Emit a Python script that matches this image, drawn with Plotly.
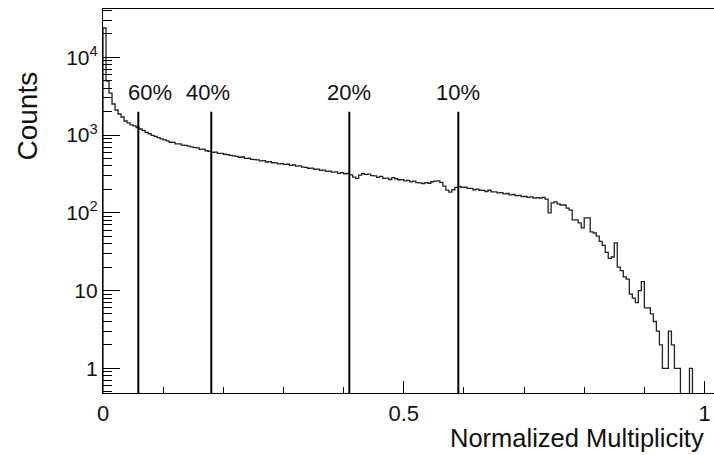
import numpy as np
import plotly.graph_objects as go

# ---------------- data ----------------
x_min, x_max, n_bins = 0.0, 1.0, 200
counts = [
    23800, 4960, 3470, 2510, 2100, 1865, 1707, 1517, 1430, 1348, 1310, 1250,
    1197, 1150, 1080, 1040, 990, 962, 925, 893,
    866, 842, 808, 806, 772, 768, 741, 738, 719, 706,
    688, 684, 655, 658, 628, 617, 601, 604, 582, 580,
    566, 561, 548, 539, 532, 518, 522, 500, 503, 488,
    482, 479, 466, 468, 450, 455, 440, 439, 425, 428,
    420, 421, 408, 412, 398, 402, 386, 385, 374, 375,
    363, 364, 352, 353, 342, 343, 333, 336, 322, 328,
    318, 320, 308, 288, 278, 306, 318, 312, 314, 300,
    298, 286, 294, 278, 280, 268, 283, 274, 266, 267,
    258, 262, 250, 255, 244, 243, 238, 244, 240, 251,
    255, 258, 246, 220, 196, 184, 198, 212, 218, 212,
    213, 206, 206, 198, 202, 195, 194, 188, 195, 186,
    186, 180, 182, 175, 177, 170, 172, 166, 168, 161,
    162, 158, 160, 154, 157, 155, 158, 150, 100, 134,
    138, 130, 126, 126, 115, 108, 81, 81, 74, 64,
    86, 86, 57, 55, 50, 43, 38, 31, 26, 27,
    41, 20, 18, 15, 14, 9, 8, 7, 10, 13,
    6, 6, 5, 4, 3, 2, 1, 1, 3, 2,
    1, 1, 0, 0, 0, 1, 0, 0, 0, 0,
]
cut_values = [0.0587, 0.180, 0.4095, 0.5907]
cut_labels = ["60%", "40%", "20%", "10%"]
y_tick_vals = [1, 10, 100, 1000, 10000]
y_tick_text = ["1", "10", "10<sup>2</sup>", "10<sup>3</sup>", "10<sup>4</sup>"]
x_tick_vals = [0, 0.5, 1]
x_tick_text = ["0", "0.5", "1"]

# ---------------- styling constants ----------------
FONT = "Liberation Sans, Arial, Helvetica, sans-serif"
INK = "#111111"
FLOOR = 1e-3          # where empty bins are drawn (below the visible range)
CUT_TOP = 2000        # height of cut lines
LABEL_Y = 3.55        # log10 position of cut labels
label_shift = [12, -3, 0, 0]

edges = np.linspace(x_min, x_max, n_bins + 1)
plot_counts = [c if c > 0 else FLOOR for c in counts]
hx = [edges[0]] + list(edges[:-1]) + [edges[-1]]
hy = [FLOOR] + plot_counts + [plot_counts[-1]]

fig = go.Figure()
fig.add_trace(go.Scatter(
    x=hx, y=hy, mode="lines", line=dict(shape="hv", color="#222222", width=1.3),
    showlegend=False, hoverinfo="skip"))

for c in cut_values:
    fig.add_trace(go.Scatter(
        x=[c, c], y=[FLOOR, CUT_TOP], mode="lines",
        line=dict(color="black", width=2), showlegend=False, hoverinfo="skip"))

for c, lab, sh in zip(cut_values, cut_labels, label_shift):
    fig.add_annotation(x=c, y=LABEL_Y, xref="x", yref="y", text=lab,
                       showarrow=False, xshift=sh, xanchor="center", yanchor="middle",
                       font=dict(family=FONT, size=22, color=INK))

# minor ticks on log axis
minor_y = [m * 10 ** d for d in range(-1, 5) for m in range(2, 10)]

W, H = 714, 455
L, R, T, B = 103, 0, 9, 62
px_per_unit = 601.5
x_right = (W - L - R) / px_per_unit
decade_px = 77.75
plot_h = H - T - B
y_lo = -(393 - 368.3) / decade_px
y_hi = y_lo + plot_h / decade_px

fig.update_layout(
    width=W, height=H,
    margin=dict(l=L, r=R, t=T, b=B),
    paper_bgcolor="white", plot_bgcolor="white",
    font=dict(family=FONT, color=INK),
    xaxis=dict(
        range=[0, x_right], showgrid=False, zeroline=False, automargin=False,
        showline=True, linecolor="black", linewidth=1.2, mirror=True,
        ticks="inside", ticklen=12, tickwidth=1, tickcolor="black",
        tickmode="array", tickvals=x_tick_vals, ticktext=x_tick_text,
        tickfont=dict(family=FONT, size=22, color=INK),
        minor=dict(ticks="inside", ticklen=6, tickcolor="black", dtick=0.1, tick0=0, showgrid=False),
    ),
    yaxis=dict(
        type="log", range=[y_lo, y_hi], showgrid=False, zeroline=False, automargin=False,
        showline=True, linecolor="black", linewidth=1.2,
        ticks="inside", ticklen=17, tickwidth=1, tickcolor="black",
        tickmode="array", tickvals=y_tick_vals, ticktext=y_tick_text,
        tickfont=dict(family=FONT, size=21, color=INK),
        minor=dict(ticks="inside", ticklen=9, tickcolor="black",
                   tickmode="array", tickvals=minor_y, showgrid=False),
    ),
)

plot_w = W - L - R
fig.add_annotation(text="Counts", xref="paper", yref="paper",
                   x=(27 - L) / plot_w, y=(393 - 116.5) / plot_h,
                   textangle=-90, showarrow=False, xanchor="center", yanchor="middle",
                   font=dict(family=FONT, size=28, color=INK))
fig.add_annotation(text="Normalized Multiplicity", xref="paper", yref="paper",
                   x=(706 - L) / plot_w, y=(393 - 438) / plot_h,
                   showarrow=False, xanchor="right", yanchor="middle",
                   font=dict(family=FONT, size=25.5, color=INK))

fig.write_html("out.html", config={"displayModeBar": False},
               post_script="document.body.style.margin='0';document.body.style.overflow='hidden';")
